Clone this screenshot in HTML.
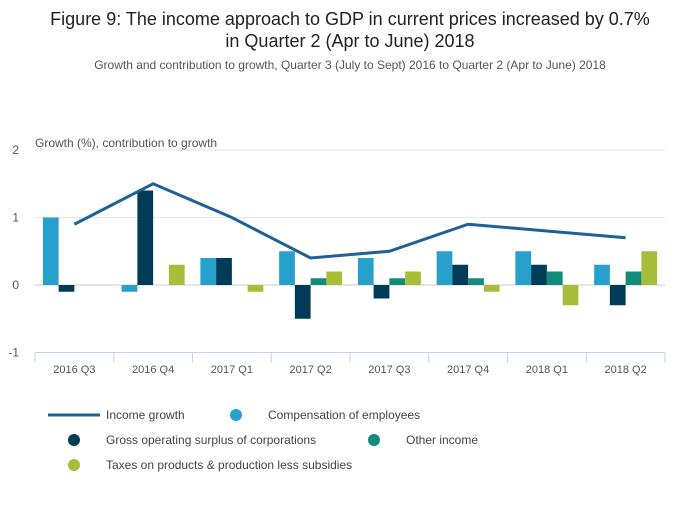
<!DOCTYPE html>
<html><head><meta charset="utf-8"><style>
body{margin:0;background:#fff;font-family:"Liberation Sans",sans-serif;}
svg text{font-family:"Liberation Sans",sans-serif;}
</style></head><body>
<svg id="chart" width="700" height="502" xmlns="http://www.w3.org/2000/svg">
<text x="350" y="25" text-anchor="middle" font-size="18" fill="#222">Figure 9: The income approach to GDP in current prices increased by 0.7%</text>
<text x="350" y="47" text-anchor="middle" font-size="18" fill="#222">in Quarter 2 (Apr to June) 2018</text>
<text x="350" y="69" text-anchor="middle" font-size="12" fill="#555">Growth and contribution to growth, Quarter 3 (July to Sept) 2016 to Quarter 2 (Apr to June) 2018</text>
<text x="35" y="147" font-size="12" fill="#555">Growth (%), contribution to growth</text>
<g id="grid"></g><g id="bars"></g><g id="line"></g><g id="xaxis"></g>
<g>
<line x1="48" y1="415" x2="100" y2="415" stroke="#206095" stroke-width="3"/>
<text x="106" y="419" font-size="12" fill="#444">Income growth</text>
<circle cx="236" cy="415" r="6" fill="#27a0cc"/>
<text x="268" y="419" font-size="12" fill="#444">Compensation of employees</text>
<circle cx="74" cy="440" r="6" fill="#003c57"/>
<text x="106" y="444" font-size="12" fill="#444">Gross operating surplus of corporations</text>
<circle cx="374" cy="440" r="6" fill="#118c7b"/>
<text x="406" y="444" font-size="12" fill="#444">Other income</text>
<circle cx="74" cy="465" r="6" fill="#a8bd3a"/>
<text x="106" y="469" font-size="12" fill="#444">Taxes on products &amp; production less subsidies</text>
</g>
</svg>
<script>
const categories=["2016 Q3","2016 Q4","2017 Q1","2017 Q2","2017 Q3","2017 Q4","2018 Q1","2018 Q2"];
const compensation=[1.0,-0.1,0.4,0.5,0.4,0.5,0.5,0.3];
const gos=[-0.1,1.4,0.4,-0.5,-0.2,0.3,0.3,-0.3];
const otherIncome=[0,0,0,0.1,0.1,0.1,0.2,0.2];
const taxes=[0,0.3,-0.1,0.2,0.2,-0.1,-0.3,0.5];
const incomeGrowth=[0.9,1.5,1.0,0.4,0.5,0.9,0.8,0.7];
const yTicks=[2,1,0,-1];
const NS="http://www.w3.org/2000/svg";
const X0=35,X1=665,Y_TOP=150,Y_BOT=352.5;
const yMin=-1,yMax=2;
function y(v){return Y_BOT-(v-yMin)/(yMax-yMin)*(Y_BOT-Y_TOP);}
const bw=(X1-X0)/categories.length;
function xc(i){return X0+bw*(i+0.5);}
function mk(tag,attrs,parent){const e=document.createElementNS(NS,tag);for(const k in attrs)e.setAttribute(k,attrs[k]);document.getElementById(parent).appendChild(e);return e;}
yTicks.forEach(t=>{
 if(t!==yMin){const g=mk('line',{x1:X0,x2:X1,y1:y(t),y2:y(t),stroke:t===0?'#ccc':'#e6e6e6','stroke-width':1},'grid');
 
 }
 const l=mk('text',{x:19,y:y(t)+4,'text-anchor':'end','font-size':12,fill:'#555'},'grid');
 l.textContent=t;
 
 
});
const series=[[compensation,'#27a0cc','compensation'],[gos,'#003c57','gos'],[otherIncome,'#118c7b','other-income'],[taxes,'#a8bd3a','taxes']];
const barW=bw*0.8/4;
categories.forEach((c,i)=>{
 const gx=X0+bw*i+bw*0.1;
 series.forEach((s,j)=>{
  const v=s[0][i];if(v===0)return;
  const r=mk('rect',{x:gx+j*barW,width:barW,y:Math.min(y(v),y(0)),height:Math.abs(y(v)-y(0)),fill:s[1]},'bars');
  
  
 });
 const t=mk('text',{x:xc(i),y:373,'text-anchor':'middle','font-size':11,fill:'#555'},'xaxis');
 t.textContent=c;
 
 
});
const ax=mk('line',{x1:X0,x2:X1,y1:Y_BOT,y2:Y_BOT,stroke:'#c5d4e8','stroke-width':1},'xaxis');


for(let i=0;i<=categories.length;i++){
 const tk=mk('line',{x1:X0+bw*i,x2:X0+bw*i,y1:Y_BOT,y2:Y_BOT+10,stroke:'#c5d4e8'},'xaxis');
 
 
}
const pl=mk('polyline',{points:incomeGrowth.map((v,i)=>xc(i)+','+y(v)).join(' '),fill:'none',stroke:'#206095','stroke-width':3},'line');


</script>
</body></html>
